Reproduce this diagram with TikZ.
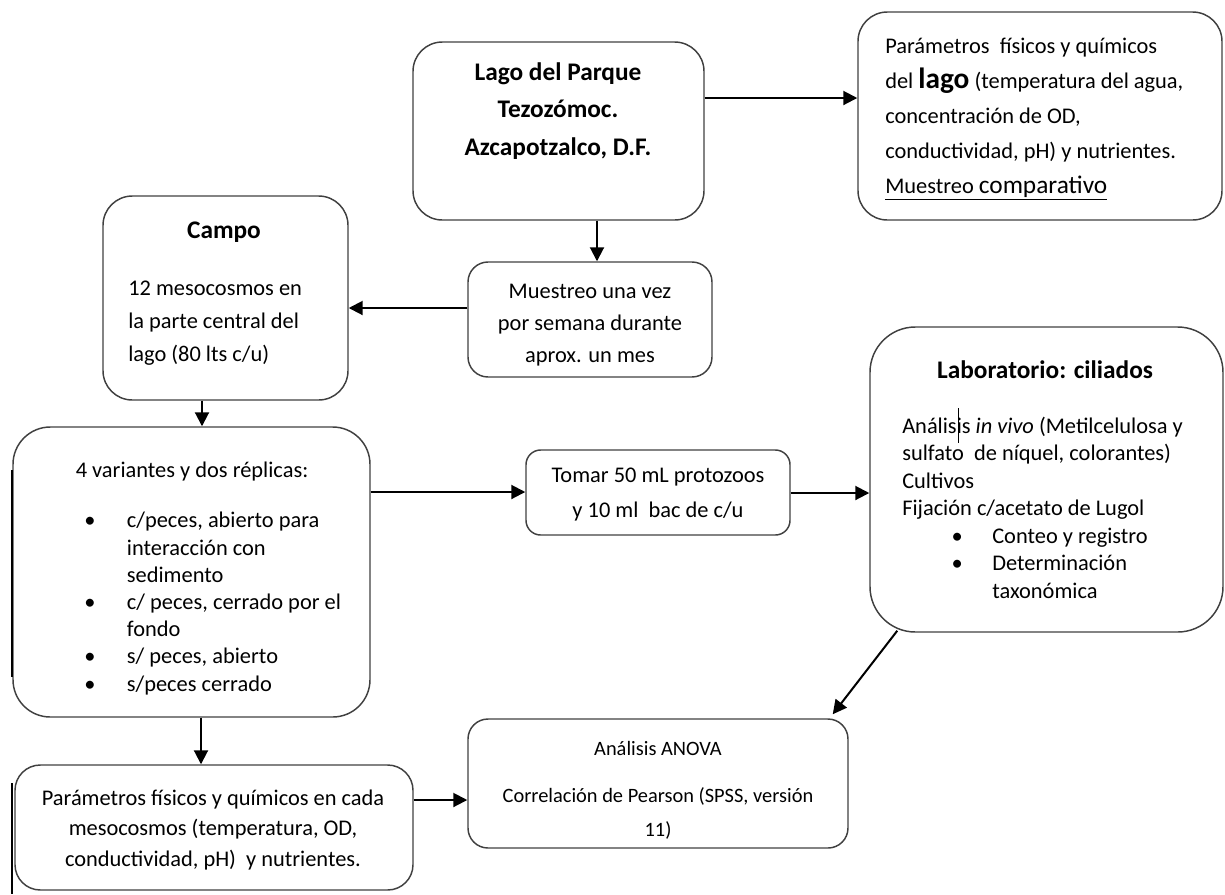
\documentclass[tikz,border=0pt]{standalone}
\usepackage{fontspec}
\setmainfont{Carlito}
\usetikzlibrary{arrows.meta,calc}
\begin{document}
\begin{tikzpicture}[x=0.75pt,y=-0.75pt,
  rbox/.style={draw=black!75, line width=1.1pt, inner sep=0pt, rounded corners=#1},
  arr/.style={draw=black, line width=1.5pt, -{Triangle[length=10.5pt,width=10.5pt]}},
  txt/.style={inner sep=0pt, font=\fontsize{16.8}{#1}\selectfont},
  btxt/.style={inner sep=0pt, font=\fontsize{19}{#1}\selectfont\bfseries}]
\useasboundingbox (0,0) rectangle (1225,894);
% boxes
\node[rbox=22pt, minimum width=218.25pt, minimum height=133.5pt] (lago) at (558.5,131) {};
\node[rbox=22pt, minimum width=273pt, minimum height=156pt] (param) at (1040,116) {};
\node[rbox=22pt, minimum width=183.75pt, minimum height=153pt] (campo) at (225.5,298) {};
\node[rbox=15pt, minimum width=183pt, minimum height=86.25pt] (muest) at (590,319.5) {};
\node[rbox=28pt, minimum width=267.75pt, minimum height=217.5pt] (var) at (191.5,572) {};
\node[rbox=11pt, minimum width=198pt, minimum height=63.75pt] (tomar) at (658,492.5) {};
\node[rbox=34pt, minimum width=264.75pt, minimum height=228.75pt] (lab) at (1046.5,479.5) {};
\node[rbox=15pt, minimum width=285pt, minimum height=96.75pt] (anova) at (658,783.5) {};
\node[rbox=19pt, minimum width=298.5pt, minimum height=93.75pt] (pfq) at (214,827.5) {};
% texts
\node[btxt=28pt, align=center] (lagoT) at (558,111) {Lago del Parque\\Tezozómoc.\\Azcapotzalco, D.F.};
\node[txt=26.25pt, align=left, anchor=west] (paramT) at (885,119) {Parámetros\ \ físicos y químicos\\del {\fontsize{22}{26}\selectfont\bfseries lago} (temperatura del agua,\\concentración de OD,\\conductividad, pH) y nutrientes.\\\underline{Muestreo {\fontsize{19}{26}\selectfont comparativo}}};
\node[btxt=25pt] (campoH) at (224,232) {Campo};
\node[txt=25pt, align=left, anchor=west] (campoT) at (128,323) {12 mesocosmos en\\la parte central del\\lago (80 lts c/u)};
\node[txt=24pt, align=center] (muestT) at (590,325) {Muestreo una vez\\por semana durante\\aprox. un mes};
\node[txt=20pt] (varH) at (192,472) {4 variantes y dos réplicas:};
\node[txt=20.4pt, align=left, anchor=west] (varT) at (84,603.5) {\makebox[32pt][l]{\textbullet}c/peces, abierto para\\\hspace*{32pt}interacción con\\\hspace*{32pt}sedimento\\\makebox[32pt][l]{\textbullet}c/ peces, cerrado por el\\\hspace*{32pt}fondo\\\makebox[32pt][l]{\textbullet}s/ peces, abierto\\\makebox[32pt][l]{\textbullet}s/peces cerrado};
\node[txt=26pt, align=center] (tomarT) at (658,494.5) {Tomar 50 mL protozoos\\y 10 ml\ \ bac de c/u};
\node[btxt=20pt] (labH) at (1045,370) {Laboratorio: ciliados};
\node[txt=20.6pt, align=left, anchor=west] (labT) at (902,507.5) {Análisis \textit{in vivo} (Metilcelulosa y\\sulfato\ \ de níquel, colorantes)\\Cultivos\\Fijación c/acetato de Lugol\\\hspace*{37pt}\makebox[30.5pt][l]{\textbullet}Conteo y registro\\\hspace*{37pt}\makebox[30.5pt][l]{\textbullet}Determinación\\\hspace*{67.5pt}taxonómica};
\draw[line width=0.6pt] (958,408) -- (958,443);
\node[inner sep=0pt, font=\fontsize{15.3}{20}\selectfont] (anovaH) at (658,748) {Análisis ANOVA};
\node[inner sep=0pt, font=\fontsize{15.3}{25}\selectfont, align=center] (anovaT) at (658,813.5) {Correlación de Pearson (SPSS, versión\\11)};
\node[txt=23pt, align=center] (pfqT) at (213,830) {Parámetros físicos y químicos en cada\\mesocosmos (temperatura, OD,\\conductividad, pH)\ \ y nutrientes.};
% side marks
\draw[line width=1.6pt] ($(var.west)+(0,-102)$) -- ($(var.west)+(0,105)$);
\draw[line width=1.6pt] ($(pfq.west)+(-2,-44.5)$) -- ($(pfq.west)+(-2,66.5)$);
% connectors
\draw[arr] ($(lago.east)+(0,-33)$) coordinate (a1) -- (a1 -| param.west);
\draw[arr] ($(lago.south)+(38.5,0)$) coordinate (a2) -- (a2 |- muest.north);
\draw[arr] ($(muest.west)+(0,-11.5)$) coordinate (a3) -- (a3 -| campo.east);
\draw[arr] ($(campo.south)+(-23.5,0)$) coordinate (a4) -- (a4 |- var.north);
\draw[arr] ($(var.east)+(0,-80)$) coordinate (a5) -- (a5 -| tomar.west);
\draw[arr] ($(tomar.east)+(0,0.5)$) coordinate (a6) -- (a6 -| lab.west);
\draw[arr] ($(lab.south west)+(28,-2)$) -- ($(anova.north east)+(-16,-4)$);
\draw[arr] ($(var.south)+(9.5,0)$) coordinate (a8) -- (a8 |- pfq.north);
\draw[arr] ($(pfq.east)+(0,-27.5)$) coordinate (a9) -- (a9 -| anova.west);
\end{tikzpicture}
\end{document}
